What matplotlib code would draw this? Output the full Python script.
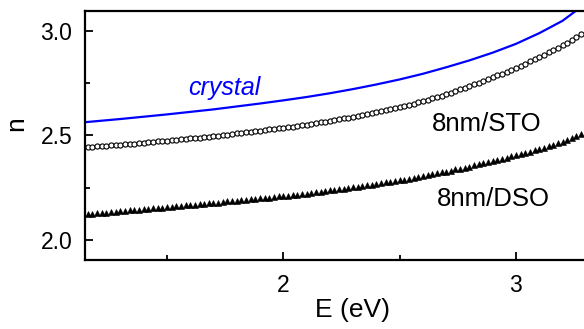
"""
Refractive index n(E) of crystal vs. 8 nm films on STO and DSO substrates.
"""
import matplotlib

matplotlib.use("Agg")
import matplotlib.pyplot as plt
from matplotlib.ticker import MultipleLocator

plt.rcParams["font.family"] = ["Liberation Sans", "DejaVu Sans"]

# crystal (solid line), read every 0.1 eV
E_CRYSTAL = [1.15, 1.2, 1.3, 1.4, 1.5, 1.6, 1.7, 1.8, 1.9, 2.0, 2.1, 2.2,
             2.3, 2.4, 2.5, 2.6, 2.7, 2.8, 2.9, 3.0, 3.1, 3.2, 3.3]
N_CRYSTAL = [2.563, 2.568, 2.578, 2.589, 2.600, 2.612, 2.624, 2.638, 2.652,
             2.667, 2.683, 2.701, 2.721, 2.743, 2.767, 2.794, 2.825, 2.858,
             2.895, 2.937, 2.988, 3.047, 3.130]

# film data points (sampled every 0.02 eV)
E_FILM = [
    1.16, 1.18, 1.20, 1.22, 1.24, 1.26, 1.28, 1.30, 1.32, 1.34, 1.36, 1.38,
    1.40, 1.42, 1.44, 1.46, 1.48, 1.50, 1.52, 1.54, 1.56, 1.58, 1.60, 1.62,
    1.64, 1.66, 1.68, 1.70, 1.72, 1.74, 1.76, 1.78, 1.80, 1.82, 1.84, 1.86,
    1.88, 1.90, 1.92, 1.94, 1.96, 1.98, 2.00, 2.02, 2.04, 2.06, 2.08, 2.10,
    2.12, 2.14, 2.16, 2.18, 2.20, 2.22, 2.24, 2.26, 2.28, 2.30, 2.32, 2.34,
    2.36, 2.38, 2.40, 2.42, 2.44, 2.46, 2.48, 2.50, 2.52, 2.54, 2.56, 2.58,
    2.60, 2.62, 2.64, 2.66, 2.68, 2.70, 2.72, 2.74, 2.76, 2.78, 2.80, 2.82,
    2.84, 2.86, 2.88, 2.90, 2.92, 2.94, 2.96, 2.98, 3.00, 3.02, 3.04, 3.06,
    3.08, 3.10, 3.12, 3.14, 3.16, 3.18, 3.20, 3.22, 3.24, 3.26, 3.28,
]
N_STO = [
    2.443, 2.445, 2.447, 2.449, 2.451, 2.452, 2.454, 2.456, 2.458, 2.460,
    2.461, 2.463, 2.465, 2.467, 2.469, 2.471, 2.473, 2.475, 2.477, 2.479,
    2.481, 2.483, 2.485, 2.487, 2.489, 2.492, 2.494, 2.496, 2.499, 2.501,
    2.504, 2.506, 2.509, 2.512, 2.514, 2.517, 2.519, 2.522, 2.525, 2.528,
    2.530, 2.533, 2.536, 2.539, 2.542, 2.545, 2.548, 2.551, 2.555, 2.558,
    2.562, 2.565, 2.569, 2.573, 2.577, 2.581, 2.585, 2.589, 2.593, 2.598,
    2.602, 2.607, 2.611, 2.616, 2.621, 2.625, 2.630, 2.635, 2.641, 2.646,
    2.652, 2.658, 2.664, 2.670, 2.677, 2.684, 2.690, 2.697, 2.704, 2.712,
    2.720, 2.727, 2.735, 2.743, 2.752, 2.760, 2.769, 2.777, 2.786, 2.795,
    2.804, 2.813, 2.822, 2.832, 2.843, 2.853, 2.864, 2.874, 2.885, 2.896,
    2.908, 2.919, 2.930, 2.943, 2.957, 2.971, 2.984,
]
N_DSO = [
    2.123, 2.125, 2.127, 2.129, 2.131, 2.133, 2.135, 2.137, 2.139, 2.141,
    2.143, 2.145, 2.147, 2.149, 2.151, 2.153, 2.155, 2.157, 2.159, 2.161,
    2.163, 2.165, 2.167, 2.169, 2.171, 2.173, 2.175, 2.177, 2.179, 2.181,
    2.184, 2.186, 2.188, 2.190, 2.192, 2.195, 2.197, 2.199, 2.201, 2.203,
    2.206, 2.208, 2.210, 2.212, 2.215, 2.217, 2.220, 2.222, 2.225, 2.228,
    2.231, 2.234, 2.237, 2.240, 2.243, 2.246, 2.249, 2.252, 2.255, 2.258,
    2.262, 2.265, 2.268, 2.271, 2.275, 2.278, 2.282, 2.285, 2.289, 2.293,
    2.297, 2.301, 2.305, 2.309, 2.314, 2.318, 2.323, 2.327, 2.332, 2.337,
    2.341, 2.346, 2.351, 2.356, 2.361, 2.366, 2.372, 2.377, 2.382, 2.388,
    2.393, 2.399, 2.404, 2.410, 2.416, 2.422, 2.428, 2.434, 2.441, 2.448,
    2.455, 2.462, 2.469, 2.478, 2.487, 2.497, 2.506,
]

fig = plt.figure(figsize=(5.84, 3.29), dpi=100)
# axes runs past the right edge of the figure (cropped panel)
ax = fig.add_axes([0.1464, 0.2097, 0.9152, 0.7569])

ax.plot(E_FILM, N_DSO, linestyle="none", marker="^", ms=5.0,
        mfc="black", mec="black", mew=0.4)
ax.plot(E_FILM, N_STO, linestyle="none", marker="o", ms=3.7,
        mfc="white", mec="black", mew=0.8)
ax.plot(E_CRYSTAL, N_CRYSTAL, color="#0000ff", lw=1.6)

ax.text(1.5905, 2.693, "crystal", color="#0000ff", fontsize=18,
        style="italic", ha="left", va="baseline")
ax.text(2.639, 2.522, "8nm/STO", fontsize=18.5, ha="left", va="baseline")
ax.text(2.659, 2.1625, "8nm/DSO", fontsize=18.5, ha="left", va="baseline")

ax.set_xlim(1.150, 3.447)
ax.set_ylim(1.9045, 3.094)
ax.xaxis.set_major_locator(MultipleLocator(1))
ax.xaxis.set_minor_locator(MultipleLocator(0.5))
ax.yaxis.set_major_locator(MultipleLocator(0.5))
ax.yaxis.set_minor_locator(MultipleLocator(0.25))
ax.yaxis.set_major_formatter(matplotlib.ticker.FormatStrFormatter("%.1f"))

ax.tick_params(which="both", direction="in", width=1.3, labelsize=16.5)
ax.tick_params(which="major", length=6)
ax.tick_params(which="minor", length=3.5)
ax.tick_params(axis="x", pad=10)
ax.tick_params(axis="y", pad=9.5)
for sp in ax.spines.values():
    sp.set_linewidth(1.6)

ax.set_xlabel("E (eV)", fontsize=19)
ax.set_ylabel("n", fontsize=19)
ax.xaxis.set_label_coords(0.5, -0.151)
ax.yaxis.set_label_coords(-0.108, 0.546)

fig.savefig("out.png", dpi=100)
